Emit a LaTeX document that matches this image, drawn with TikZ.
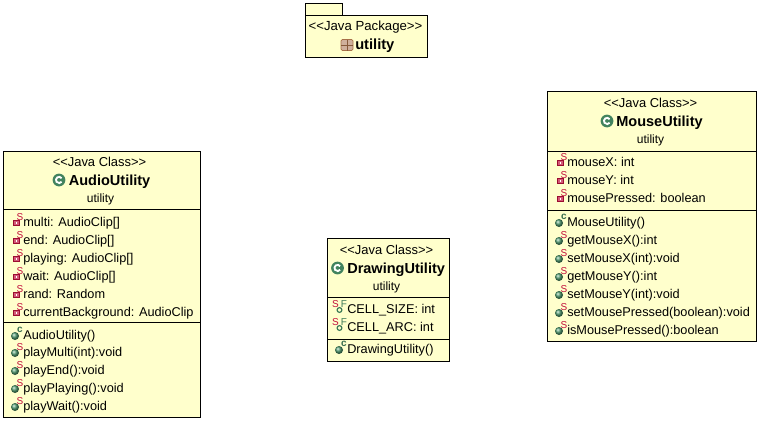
\documentclass[tikz,border=0pt]{standalone}
\usepackage{fontspec}
\setmainfont{Liberation Sans}
\definecolor{uml}{HTML}{FFFFCC}
\definecolor{icongreen}{HTML}{4E9A6E}
\definecolor{iconred}{HTML}{C2103C}
\definecolor{pkgbrown}{HTML}{A8704A}
\tikzset{
  x=0.75pt,y=-0.75pt,
  umlbox/.style={draw=black,fill=uml,line width=0.75pt,minimum width=0pt,inner sep=0pt},
  sepline/.style={draw=black,line width=0.75pt},
  stereo/.style={font=\fontsize{9.7}{11}\selectfont,inner sep=0pt,text=black,anchor=base},
  pkgstereotext/.style={font=\fontsize{9.9}{11}\selectfont,inner sep=0pt,anchor=base},
  pkgsub/.style={font=\fontsize{9}{11}\selectfont,inner sep=0pt,anchor=base},
  classname/.style={font=\fontsize{10.9}{12}\selectfont\bfseries,inner sep=0pt,anchor=base west},
  pkgname/.style={font=\fontsize{11}{12}\selectfont\bfseries,inner sep=0pt,anchor=base west},
  member/.style={font=\fontsize{9.55}{11}\selectfont,inner sep=0pt,anchor=base west},
  supmark/.style={font=\fontsize{7.5}{8}\selectfont,inner sep=0pt,text=iconred},
  supgreen/.style={font=\fontsize{7.5}{8}\selectfont\bfseries,inner sep=0pt,text=icongreen!70!black},
}
% x = left edge of text, y = row centre
\newcommand{\redsq}[2]{%
  \fill[iconred!70!white,draw=iconred!80!black,line width=0.4pt] (#1-9.5,#2-1.5) rectangle (#1-4,#2+3.5);
  \fill[white] (#1-7.5,#2+.2) rectangle (#1-6,#2+1.8);}
\newcommand{\greendot}[2]{%
  \shade[ball color=icongreen] (#1-8,#2+1) circle[radius=4];}
\newcommand{\fieldrow}[4]{% name, x, y, text
  \redsq{#2}{#3}
  \node[supmark] at (#2-3,#3-5) {S};
  \node[member] (#1) at (#2,#3+4) {#4};}
\newcommand{\methodrow}[4]{%
  \greendot{#2}{#3}
  \node[supmark] at (#2-3,#3-5) {S};
  \node[member] (#1) at (#2,#3+4) {#4};}
\newcommand{\ctorrow}[4]{%
  \greendot{#2}{#3}
  \node[supgreen] at (#2-3,#3-5) {c};
  \node[member] (#1) at (#2,#3+4) {#4};}
\newcommand{\constrow}[4]{%
  \node[supmark] at (#2-11.5,#3-5) {S};
  \draw[icongreen!80!black,line width=0.9pt] (#2-7.5,#3+1) circle[radius=2.4];
  \node[supmark,text=icongreen!80!black] at (#2-3,#3-5) {F};
  \node[member] (#1) at (#2,#3+4) {#4};}
\newcommand{\classicon}[2]{%
  \fill[icongreen!85!black] (#1,#2) circle[radius=6.4];
  \draw[white,line width=1.4pt] (#1+2.6,#2-1.8) arc[start angle=-35,end angle=-325,radius=3.1];}
\begin{document}
\begin{tikzpicture}
\useasboundingbox (0,0) rectangle (760,421);
\fill[white] (0,0) rectangle (760,421);

% package
\node[umlbox,anchor=north west,minimum width=27.75pt,minimum height=9pt] (pkgtab) at (305,3) {};
\node[umlbox,anchor=north west,minimum width=91.5pt,minimum height=31.5pt] (pkgbody) at (305,15) {};
\node[pkgstereotext] (pkgstereo) at (365.5,31) {<{}<Java Package>{}>};
\fill[pkgbrown!55!white,draw=pkgbrown,line width=0.5pt,rounded corners=1pt] (341,39.5) rectangle (353,50.5);
\draw[pkgbrown!80!black,line width=0.7pt] (347,39.5) -- (347,50.5) (341,45) -- (353,45);
\node[pkgname] (pkglabel) at (355,49) {utility};

% AudioUtility
\node[umlbox,anchor=north west,minimum width=147.75pt,minimum height=199.5pt] (audio) at (3,151) {};
\draw[sepline] (3,209) -- (200,209) (3,322) -- (200,322);
\node[stereo] (audiostereo) at (99.5,166) {<{}<Java Class>{}>};
\classicon{59}{180}
\node[classname] (audioname) at (68.5,185) {AudioUtility};
\node[pkgsub] (audiopkg) at (100.5,202) {utility};
\fieldrow{a1}{23}{222}{multi: AudioClip[]}
\fieldrow{a2}{23}{240}{end: AudioClip[]}
\fieldrow{a3}{23}{258}{playing: AudioClip[]}
\fieldrow{a4}{23}{276}{wait: AudioClip[]}
\fieldrow{a5}{23}{294}{rand: Random}
\fieldrow{a6}{23}{312}{currentBackground: AudioClip}
\ctorrow{a7}{23}{335}{AudioUtility()}
\methodrow{a8}{23}{352}{playMulti(int):void}
\methodrow{a9}{23}{370}{playEnd():void}
\methodrow{a10}{23}{388}{playPlaying():void}
\methodrow{a11}{23}{406}{playWait():void}

% DrawingUtility
\node[umlbox,anchor=north west,minimum width=91.5pt,minimum height=92.25pt] (drawing) at (327,238) {};
\draw[sepline] (327,297) -- (449,297) (327,339) -- (449,339);
\node[stereo] (drawstereo) at (386.5,254) {<{}<Java Class>{}>};
\classicon{337.5}{268}
\node[classname] (drawname) at (347,273) {DrawingUtility};
\node[pkgsub] (drawpkg) at (386.5,290) {utility};
\constrow{d1}{347}{309}{CELL\_SIZE: int}
\constrow{d2}{347}{327}{CELL\_ARC: int}
\ctorrow{d3}{347}{349}{DrawingUtility()}

% MouseUtility
\node[umlbox,anchor=north west,minimum width=156.75pt,minimum height=187.5pt] (mouse) at (547,91) {};
\draw[sepline] (547,151) -- (756,151) (547,210) -- (756,210);
\node[stereo] (mousestereo) at (650.5,107) {<{}<Java Class>{}>};
\classicon{607}{121}
\node[classname] (mousename) at (616,126) {MouseUtility};
\node[pkgsub] (mousepkg) at (650.5,143) {utility};
\fieldrow{m1}{567}{162}{mouseX: int}
\fieldrow{m2}{567}{180}{mouseY: int}
\fieldrow{m3}{567}{198}{mousePressed: boolean}
\ctorrow{m4}{567}{222}{MouseUtility()}
\methodrow{m5}{567}{240}{getMouseX():int}
\methodrow{m6}{567}{258}{setMouseX(int):void}
\methodrow{m7}{567}{276}{getMouseY():int}
\methodrow{m8}{567}{294}{setMouseY(int):void}
\methodrow{m9}{567}{312}{setMousePressed(boolean):void}
\methodrow{m10}{567}{330}{isMousePressed():boolean}
\end{tikzpicture}
\end{document}
